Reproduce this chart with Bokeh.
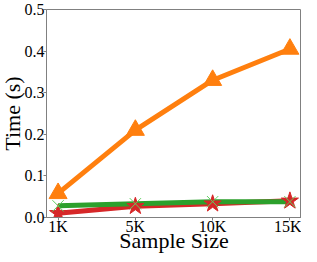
from bokeh.plotting import figure
from bokeh.models import FixedTicker, Range1d, Title
from bokeh.embed import file_html
from bokeh.resources import INLINE

categories = ["1K", "5K", "10K", "15K"]
orange_vals = [0.058, 0.210, 0.330, 0.405]
green_vals = [0.028, 0.033, 0.038, 0.038]
red_vals = [0.010, 0.027, 0.033, 0.040]
y_ticks = [0.0, 0.1, 0.2, 0.3, 0.4, 0.5]

xs = list(range(len(categories)))

p = figure(width=301, height=254, output_backend="svg", toolbar_location=None,
           x_range=Range1d(-0.15, 3.15), y_range=Range1d(0, 0.5),
           min_border_left=42, min_border_right=0, min_border_top=9, min_border_bottom=37)

p.xgrid.visible = False
p.ygrid.visible = False
p.outline_line_color = "#808080"
p.outline_line_width = 1

FONT = "Liberation Serif"
for ax in (p.xaxis[0], p.yaxis[0]):
    ax.axis_line_color = "#808080"
    ax.major_tick_line_color = "#808080"
    ax.major_tick_out = 3
    ax.major_tick_in = 0
    ax.minor_tick_line_color = None
    ax.major_label_text_font = FONT
    ax.major_label_text_font_size = "16px"
    ax.major_label_text_color = "black"
p.xaxis.major_label_standoff = -3
p.yaxis.major_label_standoff = -1

p.xaxis.ticker = FixedTicker(ticks=xs)
p.xaxis.major_label_overrides = {i: c for i, c in enumerate(categories)}
p.yaxis.ticker = FixedTicker(ticks=y_ticks)
p.yaxis.major_label_overrides = {t: f"{t:.1f}" for t in y_ticks}

p.add_layout(Title(text="Sample Size", align="center", vertical_align="middle",
                   text_font=FONT, text_font_size="22px", text_font_style="normal",
                   text_color="black", standoff=-22), "below")
p.add_layout(Title(text="Time (s)", align="center", text_font=FONT,
                   text_font_size="22px", text_font_style="normal",
                   text_color="black", standoff=-6), "left")

orange = "#ff7f0e"
green = "#2ca02c"
red = "#d62728"

p.line(xs, orange_vals, line_color=orange, line_width=5)
p.scatter(xs, orange_vals, marker="triangle", size=18, fill_color=orange, line_color=orange)

p.line(xs, red_vals, line_color=red, line_width=5)
p.line(xs, green_vals, line_color=green, line_width=5)
p.scatter(xs, red_vals, marker="star", size=18, fill_color=red, line_color=red)
p.scatter(xs, green_vals, marker="x", size=16, line_color="#5fcf5f", line_width=1)

open("out.html", "w").write(file_html(p, INLINE))
